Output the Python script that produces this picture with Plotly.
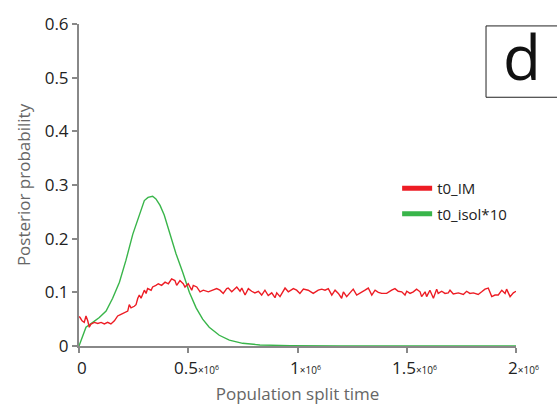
import plotly.graph_objects as go

# Population split time in units of 10^6
im_x = [0.0, 0.005, 0.014, 0.024, 0.032, 0.040, 0.047, 0.055, 0.070, 0.086, 0.101, 0.116, 0.131, 0.146,
        0.162, 0.177, 0.192, 0.207, 0.223, 0.230, 0.238, 0.253, 0.261, 0.269, 0.276, 0.284, 0.292,
        0.299, 0.307, 0.314, 0.330, 0.337, 0.352, 0.363, 0.378, 0.394, 0.409, 0.424, 0.439, 0.447,
        0.462, 0.477, 0.485, 0.500, 0.508, 0.516, 0.523, 0.539, 0.554, 0.569, 0.592, 0.615, 0.630,
        0.645, 0.660, 0.676, 0.683, 0.699, 0.722, 0.737, 0.745, 0.760, 0.775, 0.790, 0.805, 0.821,
        0.836, 0.851, 0.866, 0.882, 0.897, 0.905, 0.920, 0.943, 0.958, 0.981, 0.996, 1.011, 1.027,
        1.049, 1.072, 1.095, 1.111, 1.126, 1.141, 1.157, 1.172, 1.187, 1.202, 1.210, 1.225, 1.240,
        1.255, 1.271, 1.286, 1.309, 1.324, 1.340, 1.355, 1.370, 1.385, 1.408, 1.431, 1.446, 1.461,
        1.477, 1.492, 1.500, 1.515, 1.530, 1.545, 1.561, 1.568, 1.584, 1.591, 1.606, 1.622, 1.637,
        1.644, 1.660, 1.675, 1.690, 1.698, 1.713, 1.736, 1.759, 1.774, 1.789, 1.805, 1.827, 1.843,
        1.858, 1.873, 1.889, 1.904, 1.919, 1.935, 1.950, 1.957, 1.973, 1.988, 2.000]
im_y = [0.055, 0.053, 0.047, 0.044, 0.056, 0.047, 0.035, 0.041, 0.044, 0.042, 0.044, 0.041, 0.044, 0.041,
        0.047, 0.056, 0.059, 0.062, 0.065, 0.077, 0.071, 0.074, 0.077, 0.089, 0.095, 0.089, 0.098,
        0.104, 0.098, 0.107, 0.104, 0.110, 0.113, 0.116, 0.113, 0.119, 0.116, 0.125, 0.122, 0.113,
        0.122, 0.116, 0.110, 0.116, 0.110, 0.104, 0.113, 0.110, 0.101, 0.104, 0.101, 0.104, 0.107,
        0.104, 0.098, 0.107, 0.108, 0.101, 0.110, 0.102, 0.108, 0.095, 0.107, 0.102, 0.099, 0.102,
        0.095, 0.104, 0.094, 0.099, 0.090, 0.099, 0.092, 0.108, 0.101, 0.107, 0.104, 0.098, 0.106,
        0.104, 0.098, 0.104, 0.106, 0.104, 0.107, 0.095, 0.104, 0.098, 0.089, 0.101, 0.092, 0.099,
        0.106, 0.095, 0.098, 0.104, 0.108, 0.095, 0.104, 0.100, 0.098, 0.098, 0.104, 0.107, 0.102,
        0.101, 0.095, 0.102, 0.098, 0.101, 0.106, 0.101, 0.092, 0.101, 0.092, 0.104, 0.089, 0.106,
        0.098, 0.102, 0.098, 0.099, 0.104, 0.097, 0.099, 0.096, 0.102, 0.098, 0.099, 0.096, 0.101,
        0.106, 0.108, 0.092, 0.095, 0.095, 0.104, 0.098, 0.106, 0.092, 0.099, 0.102]

isol_x = [0.0, 0.017, 0.032, 0.063, 0.093, 0.124, 0.154, 0.185, 0.215, 0.246, 0.276, 0.299, 0.316,
          0.337, 0.352, 0.371, 0.390, 0.413, 0.444, 0.475, 0.505, 0.536, 0.566, 0.596, 0.642, 0.688,
          0.749, 0.828, 0.966, 1.2, 1.5, 2.0]
isol_y = [0.0, 0.02, 0.035, 0.044, 0.053, 0.065, 0.089, 0.119, 0.16, 0.208, 0.244, 0.271, 0.277,
          0.279, 0.274, 0.262, 0.244, 0.214, 0.172, 0.137, 0.10, 0.071, 0.050, 0.035, 0.020, 0.011,
          0.005, 0.002, 0.0005, 0.0, 0.0, 0.0]

x_tickvals = [0, 0.5, 1, 1.5, 2]
x_ticknums = ["0", "0.5", "1", "1.5", "2"]
x_tickexp = ["", "×10<sup>6</sup>", "×10<sup>6</sup>", "×10<sup>6</sup>", "×10<sup>6</sup>"]
y_tickvals = [0, 0.1, 0.2, 0.3, 0.4, 0.5, 0.6]
y_ticktext = ["0", "0.1", "0.2", "0.3", "0.4", "0.5", "0.6"]

RED = "#ed1c24"
GREEN = "#39b54a"
FONT = "Open Sans"

fig = go.Figure()
fig.add_trace(go.Scatter(x=isol_x, y=isol_y, mode="lines", line=dict(color=GREEN, width=1.4),
                         showlegend=False, cliponaxis=False))
fig.add_trace(go.Scatter(x=im_x, y=im_y, mode="lines", line=dict(color=RED, width=1.4),
                         showlegend=False))
# legend entries with thick sample lines
fig.add_trace(go.Scatter(x=[None], y=[None], mode="lines", name="t0_IM",
                         line=dict(color=RED, width=5), legendgroup="a"))
fig.add_trace(go.Scatter(x=[None], y=[None], mode="lines", name="t0_isol*10",
                         line=dict(color=GREEN, width=5), legendgroup="b"))

annotations = []
offsets = [-4, -16, -10, -17, -10]
for v, num, ex, off in zip(x_tickvals, x_ticknums, x_tickexp, offsets):
    txt = num + (f"<span style='font-size:10px'>{ex}</span>" if ex else "")
    annotations.append(dict(x=v, y=0, xref="x", yref="paper", text=txt, showarrow=False,
                            xanchor="left", yanchor="middle", xshift=off, yshift=-21,
                            font=dict(family=FONT, size=17, color="#222")))
annotations.append(dict(x=1.0137, y=0.901, xref="paper", yref="paper", text="d", showarrow=False,
                        xanchor="center", yanchor="middle",
                        font=dict(family=FONT, size=62, color="#111")))

fig.update_layout(
    width=557, height=416,
    margin=dict(l=79, r=41, t=12, b=70),
    paper_bgcolor="white", plot_bgcolor="white",
    font=dict(family=FONT, size=16, color="#222"),
    showlegend=True,
    legend=dict(x=0.728, y=0.54, xanchor="left", yanchor="top", tracegroupgap=3,
                font=dict(family=FONT, size=15, color="#222"), bgcolor="rgba(0,0,0,0)"),
    annotations=annotations,
    shapes=[dict(type="rect", xref="paper", yref="paper", x0=0.9314, x1=1.1, y0=0.7725, y1=0.994,
                 line=dict(color="#222", width=1))],
)
fig.update_xaxes(range=[0, 2], tickvals=x_tickvals, showticklabels=False, ticks="outside",
                 ticklen=5, tickwidth=2, tickcolor="#888", showline=True, linecolor="#888",
                 linewidth=2, showgrid=False, zeroline=False,
                 title=dict(text="Population split time", font=dict(family=FONT, size=17, color="#666"),
                            standoff=36))
fig.update_yaxes(range=[0, 0.6001], tickvals=y_tickvals, ticktext=y_ticktext, ticks="outside",
                 ticklen=5, tickwidth=2, tickcolor="#888", showline=True, linecolor="#888",
                 linewidth=2, showgrid=False, zeroline=False, ticklabeloverflow="allow",
                 tickfont=dict(family=FONT, size=17, color="#222"),
                 title=dict(text="Posterior probability", font=dict(family=FONT, size=17, color="#666"),
                            standoff=10))

fig.write_html("out.html")
